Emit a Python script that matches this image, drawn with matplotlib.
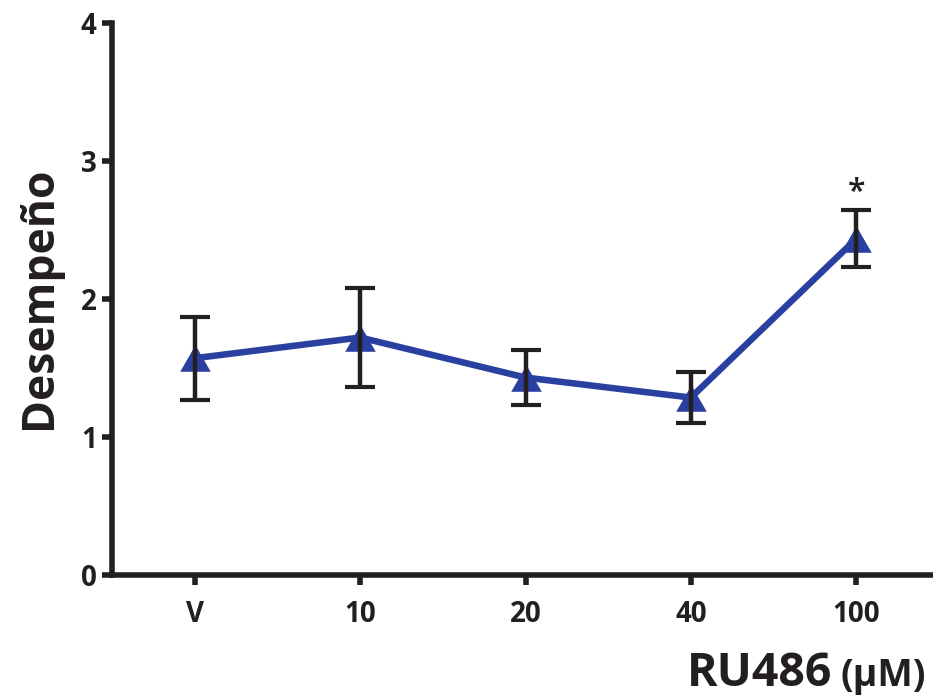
import matplotlib
matplotlib.use("Agg")
import matplotlib.pyplot as plt
from matplotlib.path import Path
import numpy as np

categories = ["V", "10", "20", "40", "100"]
means = [1.57, 1.72, 1.43, 1.285, 2.435]
errors = [0.30, 0.36, 0.20, 0.185, 0.205]
significance = ["", "", "", "", "*"]
yticks = [0, 1, 2, 3, 4]

BLUE = "#2A40A0"
BLACK = "#231F20"
FONT = "Open Sans"

plt.rcParams['font.family'] = [FONT, 'DejaVu Sans']
plt.rcParams['font.weight'] = 'bold'

W, H = 933, 698
fig = plt.figure(figsize=(W / 100, H / 100), dpi=100)
ax = fig.add_axes([112 / W, 1 - 575 / H, (939 - 112) / W, (575 - 22.7) / H])

x = np.arange(len(categories))
tri = Path([(0, 0.87), (-1, -0.87), (1, -0.87), (0, 0.87)],
           [Path.MOVETO, Path.LINETO, Path.LINETO, Path.CLOSEPOLY])

ax.plot(x, means, color=BLUE, lw=4.7, marker=tri, markersize=22,
        markerfacecolor=BLUE, markeredgecolor=BLUE, markeredgewidth=0,
        zorder=2, solid_capstyle='butt')
ax.errorbar(x, means, yerr=errors, fmt='none', ecolor=BLACK, elinewidth=3.2,
            capsize=10.5, capthick=3, zorder=3)

for xi, m, e, s in zip(x, means, errors, significance):
    if s:
        ax.text(xi, m + e + 0.125, s, ha='center', va='center', fontsize=23,
                color=BLACK, fontweight='semibold')

ax.set_xlim(-0.5, 4.5)
ax.set_ylim(0, 4)
ax.set_xticks(x)
ax.set_xticklabels(categories)
ax.set_yticks(yticks)
ax.set_yticklabels([str(t) for t in yticks])

for side in ['top', 'right']:
    ax.spines[side].set_visible(False)
for side in ['left', 'bottom']:
    ax.spines[side].set_linewidth(4)
    ax.spines[side].set_color(BLACK)
    ax.spines[side].set_capstyle('projecting')

ax.tick_params(axis='y', length=7, width=4, color=BLACK, pad=4,
               labelsize=20, labelcolor=BLACK)
ax.tick_params(axis='x', length=7, width=4, color=BLACK, pad=11,
               labelsize=20, labelcolor=BLACK)
for lab in ax.get_xticklabels() + ax.get_yticklabels():
    lab.set_fontweight('bold')

fig.text(39 / W, 1 - 298 / H, "Desempeño", rotation=90, ha='center',
         va='center', fontsize=32, fontweight='bold', color=BLACK)
fig.text(926 / W, 1 - 686 / H, "(μM)", ha='right', va='baseline',
         fontsize=27, fontweight='bold', color=BLACK)
fig.text(832 / W, 1 - 686 / H, "RU486", ha='right', va='baseline',
         fontsize=33.5, fontweight='bold', color=BLACK)

fig.savefig("out.png", dpi=100)
